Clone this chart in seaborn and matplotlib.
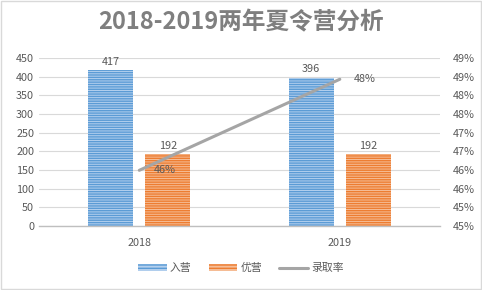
import pandas as pd
import matplotlib.pyplot as plt
import seaborn as sns
from matplotlib.patches import Rectangle, Patch
from matplotlib.lines import Line2D
from matplotlib.ticker import FuncFormatter


years = ["2018", "2019"]
series = ["入营", "优营"]
enter = [417, 396]
excellent = [192, 192]
rate = [0.4604, 0.4848]
rate_labels = ["46%", "48%"]

colors = {"入营": "#5B9BD5", "优营": "#ED7D31"}
light = {"入营": "#B4D0EE", "优营": "#F6BE98"}


def draw(out_path):
    sns.set_style("white")
    plt.rcParams['font.family'] = ['Noto Sans CJK SC', 'DejaVu Sans']
    plt.rcParams['hatch.linewidth'] = 1.0

    df = pd.DataFrame({
        "year": years * 2,
        "series": [series[0]] * 2 + [series[1]] * 2,
        "value": enter + excellent,
    })

    fig = plt.figure(figsize=(4.82, 2.90), dpi=100)
    ax = fig.add_axes([0.081, 0.221, 0.832, 0.579])

    sns.barplot(data=df, x="year", y="value", hue="series", order=years,
                hue_order=series, width=0.57, gap=0.21, ax=ax, legend=False,
                palette=light, saturation=1)

    # stripe texture like the excel pattern fill
    # patches come out hue by hue: first 入营 (2018, 2019), then 优营
    for i, p in enumerate(ax.patches):
        h = p.get_height()
        s = series[i // len(years)]
        p.set_hatch("-------")
        p.set_edgecolor(colors[s])
        p.set_linewidth(0)
        ax.text(p.get_x() + p.get_width() / 2, h + 10, f"{int(h)}",
                ha="center", va="bottom", fontsize=7.8, color="#595959")

    ax.set_ylim(0, 450)
    ax.set_xlim(-0.5, 1.5)
    ax.set_yticks(range(0, 451, 50))
    ax.set_xlabel("")
    ax.set_ylabel("")
    ax.grid(axis="y", color="#D9D9D9", linewidth=0.8)
    ax.set_axisbelow(True)
    for side in ["top", "left", "right"]:
        ax.spines[side].set_visible(False)
    ax.spines["bottom"].set_color("#BFBFBF")
    ax.spines["bottom"].set_linewidth(1.0)
    ax.tick_params(axis="both", length=0, labelsize=7.8, labelcolor="#595959")
    ax.tick_params(axis="x", pad=9)

    ax2 = ax.twinx()
    sns.lineplot(x=[0, 1], y=rate, ax=ax2, color="#A5A5A5", linewidth=2.2)
    ax2.set_ylim(0.4455, 0.4905)
    ax2.set_yticks([0.4455 + 0.005 * i for i in range(10)])
    ax2.yaxis.set_major_formatter(FuncFormatter(lambda v, pos: f"{round(v * 100 + 1e-9):.0f}%"))
    ax2.tick_params(axis="y", length=0, labelsize=7.8, labelcolor="#595959", pad=9)
    for side in ax2.spines:
        ax2.spines[side].set_visible(False)
    for i, v in enumerate(rate):
        ax2.text(i + 0.07, v, rate_labels[i], ha="left", va="center",
                 fontsize=7.8, color="#595959")

    fig.text(0.5, 0.922, "2018-2019两年夏令营分析", ha="center", va="center",
             fontsize=17, fontweight="bold", color="#7F7F7F")

    handles = [
        Patch(facecolor=light["入营"], edgecolor=colors["入营"], hatch="-----", linewidth=0),
        Patch(facecolor=light["优营"], edgecolor=colors["优营"], hatch="-----", linewidth=0),
        Line2D([0], [0], color="#A5A5A5", linewidth=2.2),
    ]
    fig.legend(handles, ["入营", "优营", "录取率"], loc="center", ncol=3,
               bbox_to_anchor=(0.5, 0.075), frameon=False, fontsize=7.8,
               labelcolor="#595959", handlelength=2.6, handleheight=0.5,
               columnspacing=1.6, handletextpad=0.3)

    fig.add_artist(Rectangle((0.002, 0.003), 0.995, 0.994, transform=fig.transFigure,
                             fill=False, edgecolor="#D9D9D9", linewidth=1.0))

    plt.savefig(out_path, dpi=100)


def main():
    draw("out.png")


if __name__ == "__main__":
    main()
